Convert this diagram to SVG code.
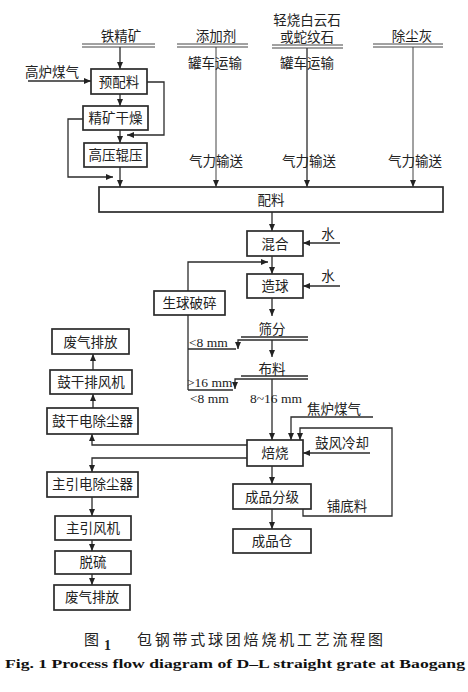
<svg xmlns="http://www.w3.org/2000/svg" width="468" height="692" viewBox="0 0 468 692">
<style>
.bx{fill:#fff;stroke:#2b2b2b;stroke-width:1.7}
.ln{fill:none;stroke:#2b2b2b;stroke-width:1.3}
.tl{fill:none;stroke:#444;stroke-width:1}
.t{font-family:"Liberation Serif","Noto Sans CJK SC",serif;font-size:13.5px;fill:#222;text-anchor:middle}
.s{font-family:"Liberation Serif","Noto Sans CJK SC",serif;font-size:13.5px;fill:#222}
</style>
<defs>
<marker id="ah" markerUnits="userSpaceOnUse" markerWidth="8" markerHeight="8" refX="7" refY="3" orient="auto">
<path d="M0,0 L7,3 L0,6 z" fill="#222"/>
</marker>
</defs>
<rect width="468" height="692" fill="#fff"/>

<g id="connectors">
<path class="ln" d="M120,47 V69" marker-end="url(#ah)"/>
<path class="ln" d="M28,81 H91" marker-end="url(#ah)"/>
<path class="ln" d="M120,94 V106" marker-end="url(#ah)"/>
<path class="ln" d="M147,82 H164 V135 H127" marker-end="url(#ah)"/>
<path class="ln" d="M120,130 V143" marker-end="url(#ah)"/>
<path class="ln" d="M83,119 H68 V177 H113" marker-end="url(#ah)"/>
<path class="ln" d="M120,167 V187" marker-end="url(#ah)"/>
<path class="tl" d="M216,47 V187" marker-end="url(#ah)"/>
<path class="ln" d="M307,48 V187" marker-end="url(#ah)"/>
<path class="tl" d="M413,47 V187" marker-end="url(#ah)"/>
<path class="ln" d="M272,212 V231" marker-end="url(#ah)"/>
<path class="ln" d="M340,243 H303" marker-end="url(#ah)"/>
<path class="ln" d="M272,256 V274" marker-end="url(#ah)"/>
<path class="ln" d="M340,286 H303" marker-end="url(#ah)"/>
<path class="ln" d="M188,291 V262 H268" marker-end="url(#ah)"/>
<path class="ln" d="M272,298 V316" marker-end="url(#ah)"/>
<path class="ln" d="M241,337 H308"/>
<path class="ln" d="M308,340 H238 V349" marker-end="url(#ah)"/>
<path class="ln" d="M188,315 V390"/>
<path class="ln" d="M188,349 H236"/>
<path class="ln" d="M272,340 V357" marker-end="url(#ah)"/>
<path class="ln" d="M241,376 H308"/>
<path class="ln" d="M308,379 H235 V389" marker-end="url(#ah)"/>
<path class="ln" d="M188,390 H233"/>
<path class="ln" d="M272,379 V440" marker-end="url(#ah)"/>
<path class="ln" d="M373,417 H291 V440" marker-end="url(#ah)"/>
<path class="ln" d="M303,509 V516 H392 V428 H300 V440" marker-end="url(#ah)"/>
<path class="ln" d="M370,453 H303" marker-end="url(#ah)"/>
<path class="ln" d="M272,466 V484" marker-end="url(#ah)"/>
<path class="ln" d="M272,509 V529" marker-end="url(#ah)"/>
<path class="ln" d="M247,445 H92 V434" marker-end="url(#ah)"/>
<path class="ln" d="M247,458 H92 V472" marker-end="url(#ah)"/>
<path class="ln" d="M93,408 V394" marker-end="url(#ah)"/>
<path class="ln" d="M93,370 V354" marker-end="url(#ah)"/>
<path class="ln" d="M92,497 V516" marker-end="url(#ah)"/>
<path class="ln" d="M92,540 V551" marker-end="url(#ah)"/>
<path class="ln" d="M92,574 V585" marker-end="url(#ah)"/>
</g>

<g id="src-iron">
<text class="t" x="121" y="41">铁精矿</text>
<path class="tl" d="M82,44 H155 M82,47 H155"/>
</g>
<g id="src-additive">
<text class="t" x="216" y="41">添加剂</text>
<path class="tl" d="M177,44 H248 M177,47 H248"/>
<text class="t" x="215" y="68">罐车运输</text>
<text class="t" x="216" y="166">气力输送</text>
</g>
<g id="src-dolomite">
<text class="t" x="307" y="25">轻烧白云石</text>
<text class="t" x="307" y="42">或蛇纹石</text>
<path class="tl" d="M272,45 H343 M272,48 H343"/>
<text class="t" x="307" y="68">罐车运输</text>
<text class="t" x="309" y="166">气力输送</text>
</g>
<g id="src-dust">
<text class="t" x="412" y="41">除尘灰</text>
<path class="tl" d="M373,44 H443 M373,47 H443"/>
<text class="t" x="415" y="166">气力输送</text>
</g>
<g id="gas-bf"><text class="t" x="52" y="77">高炉煤气</text></g>

<g id="n-prebatch"><rect class="bx" x="91" y="69" width="56" height="25"/><text class="t" x="119" y="86.5">预配料</text></g>
<g id="n-dry"><rect class="bx" x="83" y="106" width="65" height="24"/><text class="t" x="115.5" y="122.5">精矿干燥</text></g>
<g id="n-hpgr"><rect class="bx" x="84" y="143" width="63" height="24"/><text class="t" x="115.5" y="159.5">高压辊压</text></g>
<g id="n-batch"><rect class="bx" x="99" y="187" width="344" height="25"/><text class="t" x="271" y="204.5">配料</text></g>
<g id="n-mix"><rect class="bx" x="247" y="231" width="56" height="25"/><text class="t" x="275" y="248.5">混合</text></g>
<g id="w1"><text class="t" x="328" y="239">水</text></g>
<g id="n-ball"><rect class="bx" x="247" y="274" width="56" height="24"/><text class="t" x="275" y="290.5">造球</text></g>
<g id="w2"><text class="t" x="328" y="281">水</text></g>
<g id="n-crush"><rect class="bx" x="154" y="291" width="71" height="24"/><text class="t" x="189.5" y="307.5">生球破碎</text></g>
<g id="n-screen"><text class="t" x="272" y="334">筛分</text></g>
<g id="n-feed"><text class="t" x="272" y="374">布料</text></g>
<g id="sizes">
<text class="s" x="189" y="347">&lt;8 mm</text>
<text class="s" x="187" y="387">&gt;16 mm</text>
<text class="s" x="190" y="403">&lt;8 mm</text>
<text class="s" x="250" y="403" fill="#222">8~16 mm</text>
</g>
<g id="coke-gas"><text class="t" x="334" y="414">焦炉煤气</text></g>
<g id="blow"><text class="t" x="342" y="448">鼓风冷却</text></g>
<g id="n-roast"><rect class="bx" x="247" y="440" width="56" height="26"/><text class="t" x="275" y="457.5">焙烧</text></g>
<g id="n-grade"><rect class="bx" x="233" y="484" width="78" height="25"/><text class="t" x="272" y="501.5">成品分级</text></g>
<g id="hearth"><text class="t" x="347" y="511">铺底料</text></g>
<g id="n-store"><rect class="bx" x="233" y="529" width="78" height="24"/><text class="t" x="272" y="545.5">成品仓</text></g>

<g id="n-exhaust1"><rect class="bx" x="52" y="329" width="77" height="25"/><text class="t" x="90.5" y="346.5">废气排放</text></g>
<g id="n-fan1"><rect class="bx" x="50" y="370" width="82" height="24"/><text class="t" x="91" y="386.5">鼓干排风机</text></g>
<g id="n-esp1"><rect class="bx" x="47" y="408" width="91" height="26"/><text class="t" x="92.5" y="425.5">鼓干电除尘器</text></g>
<g id="n-esp2"><rect class="bx" x="47" y="472" width="91" height="25"/><text class="t" x="92.5" y="489">主引电除尘器</text></g>
<g id="n-fan2"><rect class="bx" x="55" y="516" width="76" height="24"/><text class="t" x="93" y="532.5">主引风机</text></g>
<g id="n-desulf"><rect class="bx" x="55" y="551" width="76" height="23"/><text class="t" x="93" y="567">脱硫</text></g>
<g id="n-exhaust2"><rect class="bx" x="54" y="585" width="76" height="25"/><text class="t" x="92" y="602">废气排放</text></g>

<g id="caption">
<text x="84" y="645" style="font-family:'Noto Sans CJK SC',sans-serif;font-size:15px;fill:#222">图</text>
<text x="104" y="650" style="font-family:'Liberation Serif',serif;font-size:14px;font-weight:bold;fill:#222">1</text>
<text x="137" y="645" textLength="246" lengthAdjust="spacing" style="font-family:'Noto Sans CJK SC',sans-serif;font-size:15px;fill:#222">包钢带式球团焙烧机工艺流程图</text>
<text x="5" y="668" textLength="460" lengthAdjust="spacingAndGlyphs" style="font-family:'Liberation Serif',serif;font-size:13.5px;font-weight:bold;fill:#111">Fig. 1 Process flow diagram of D–L straight grate at Baogang</text>
</g>
</svg>
